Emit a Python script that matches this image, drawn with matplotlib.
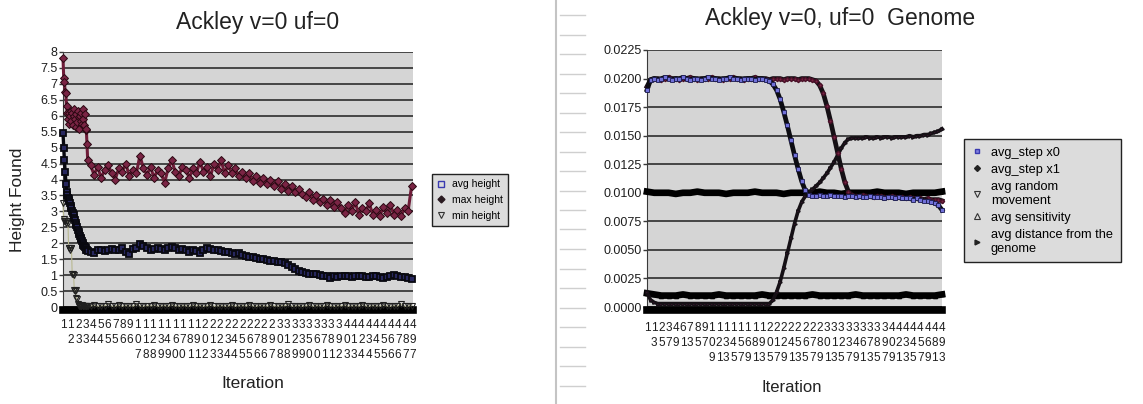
import matplotlib
matplotlib.use('Agg')
import matplotlib.pyplot as plt
from matplotlib.lines import Line2D
import numpy as np

plt.rcParams['font.family'] = ['Liberation Sans', 'DejaVu Sans']

W, H = 1143, 404

# ---- left chart: heights found per iteration ----
it_left = list(range(1, 37)) + list(range(40, 500, 5))

max_height = [7.8, 7.2, 7.05, 6.75, 6.7, 6.3, 6.1, 5.9, 6.1, 5.75,
              6.0, 6.15, 5.85, 6.1, 5.7, 6.0, 6.2, 5.9, 5.65, 6.05,
              5.8, 6.15, 5.95, 5.6, 6.0, 5.85, 6.1, 5.75, 6.2, 5.9,
              5.7, 6.05, 5.55, 5.6, 5.1, 4.6,
              4.45, 4.15, 4.4, 4.05, 4.3, 4.45, 4.2, 4.0, 4.35, 4.25,
              4.5, 4.1, 4.3, 4.2, 4.75, 4.35, 4.15, 4.4, 4.05, 4.3,
              4.2, 3.9, 4.35, 4.6, 4.25, 4.1, 4.4, 4.3, 4.05, 4.35,
              4.2, 4.55, 4.25, 4.4, 4.1, 4.5, 4.3, 4.6, 4.2, 4.45,
              4.2, 4.35, 4.1, 4.25, 4.05, 4.2, 3.95, 4.1, 3.9, 4.05,
              3.85, 4.0, 3.8, 3.95, 3.7, 3.85, 3.65, 3.8, 3.6, 3.7,
              3.55, 3.45, 3.6, 3.35, 3.5, 3.3, 3.4, 3.2, 3.35, 3.15,
              3.3, 3.1, 2.95, 3.2, 3.0, 3.3, 2.9, 3.1, 3.0, 3.25,
              2.9, 3.05, 2.85, 3.15, 2.95, 3.2, 2.9, 3.05, 2.85, 3.1,
              3.0, 3.8]

avg_height = [5.45, 5.0, 4.6, 4.25, 3.85, 3.6, 3.5, 3.42, 3.38, 3.32,
              3.25, 3.18, 3.1, 3.02, 2.95, 2.88, 2.8, 2.72, 2.65, 2.58,
              2.5, 2.42, 2.36, 2.3, 2.24, 2.18, 2.12, 2.06, 2.0, 1.96,
              1.92, 1.88, 1.84, 1.8, 1.78, 1.76,
              1.74, 1.68, 1.78, 1.8, 1.76, 1.8, 1.82, 1.78, 1.8, 1.84,
              1.72, 1.66, 1.82, 1.85, 1.97, 1.9, 1.84, 1.8, 1.82, 1.86,
              1.83, 1.8, 1.85, 1.88, 1.84, 1.8, 1.82, 1.78, 1.74, 1.8,
              1.76, 1.68, 1.8, 1.86, 1.82, 1.78, 1.8, 1.76, 1.74, 1.72,
              1.7, 1.66, 1.68, 1.64, 1.6, 1.58, 1.56, 1.54, 1.52, 1.5,
              1.48, 1.45, 1.44, 1.42, 1.4, 1.38, 1.32, 1.26, 1.2, 1.14,
              1.1, 1.06, 1.05, 1.03, 1.02, 0.99, 0.98, 0.96, 0.92, 0.97,
              0.95, 0.96, 0.98, 0.97, 0.95, 0.96, 0.98, 0.97, 0.95, 0.94,
              0.96, 0.97, 0.93, 0.92, 0.95, 0.97, 0.99, 0.96, 0.94, 0.93,
              0.9, 0.88]

min_height = [3.25, 2.75, 2.7, 2.7, 2.65, 2.7, 2.7, 2.65, 1.85, 1.85,
              1.8, 1.85, 1.85, 1.05, 1.05, 1.0, 0.53, 0.5, 0.53, 0.28,
              0.25, 0.1, 0.05, 0.03, 0.04, 0.02, 0.03, 0.05, 0.02, 0.03,
              0.04, 0.02, 0.03, 0.02, 0.04, 0.03,
              0.03, 0.05, 0.02, 0.04, 0.03, 0.1, 0.02, 0.03, 0.05, 0.02,
              0.04, 0.03, 0.02, 0.08, 0.03, 0.02, 0.04, 0.03, 0.05, 0.02,
              0.03, 0.04, 0.02, 0.06, 0.03, 0.02, 0.04, 0.03, 0.02, 0.05,
              0.03, 0.04, 0.02, 0.03, 0.07, 0.02, 0.03, 0.04, 0.02, 0.03,
              0.05, 0.02, 0.03, 0.04, 0.02, 0.06, 0.03, 0.02, 0.04, 0.03,
              0.02, 0.05, 0.03, 0.02, 0.04, 0.03, 0.08, 0.02, 0.03, 0.04,
              0.02, 0.03, 0.05, 0.02, 0.04, 0.03, 0.02, 0.06, 0.03, 0.02,
              0.04, 0.03, 0.05, 0.02, 0.03, 0.04, 0.02, 0.07, 0.03, 0.02,
              0.04, 0.03, 0.02, 0.05, 0.03, 0.02, 0.04, 0.03, 0.09, 0.02,
              0.03, 0.04]

left_ticks = [1, 12, 23, 33, 44, 54, 65, 75, 86, 96,
              107, 118, 128, 139, 149, 160, 170, 181, 191, 202,
              213, 223, 234, 244, 255, 265, 276, 286, 297, 308,
              318, 329, 339, 350, 360, 371, 381, 392, 403, 413,
              424, 434, 445, 455, 466, 476, 487, 497]

# ---- right chart: genome values per iteration ----
it_right = list(range(1, 494, 6))
it_flat = list(range(1, 494, 12))

step_x0 = [.0190, .0199, .0200, .0199, .0200, .0201, .0200, .0199, .0200, .0200,
           .0201, .0200, .0199, .0200, .0200, .0199, .0200, .0201, .0200, .0200,
           .0199, .0200, .0200, .0201, .0200, .0200, .0199, .0200, .0200, .0200,
           .0199, .0200, .0200, .0199, .0198, .0195, .0190, .0182, .0171, .0159,
           .0146, .0133, .0121, .0110, .0102, .0098, .0097, .0097, .0098, .0097,
           .0097, .0098, .0097, .0097, .0097, .0096, .0097, .0097, .0096, .0097,
           .0096, .0096, .0097, .0096, .0096, .0096, .0095, .0096, .0096, .0095,
           .0096, .0095, .0095, .0095, .0094, .0095, .0094, .0093, .0093, .0092,
           .0091, .0089, .0085]

step_x1 = [.0193, .0199, .0200, .0200, .0199, .0200, .0201, .0200, .0200, .0199,
           .0200, .0200, .0201, .0200, .0199, .0200, .0200, .0200, .0201, .0200,
           .0200, .0199, .0200, .0200, .0201, .0200, .0200, .0199, .0200, .0200,
           .0201, .0200, .0200, .0200, .0199, .0200, .0200, .0200, .0199, .0200,
           .0200, .0200, .0199, .0200, .0200, .0200, .0199, .0198, .0194, .0187,
           .0176, .0163, .0149, .0135, .0121, .0109, .0101, .0098, .0097, .0097,
           .0098, .0097, .0097, .0096, .0097, .0097, .0096, .0096, .0097, .0096,
           .0096, .0096, .0095, .0096, .0095, .0095, .0095, .0094, .0095, .0094,
           .0094, .0094, .0093]

dist_genome = [.0013, .0006, .0004, .0003, .0003, .0003, .0003, .0003, .0003, .0003,
               .0003, .0003, .0003, .0003, .0003, .0003, .0003, .0003, .0003, .0003,
               .0003, .0003, .0003, .0003, .0003, .0003, .0003, .0003, .0003, .0003,
               .0003, .0003, .0003, .0003, .0003, .0006, .0013, .0022, .0034, .0047,
               .0060, .0073, .0084, .0092, .0097, .0100, .0103, .0106, .0109, .0113,
               .0117, .0122, .0127, .0133, .0139, .0144, .0147, .0148, .0148, .0148,
               .0148, .0149, .0148, .0148, .0149, .0148, .0149, .0149, .0148, .0149,
               .0149, .0149, .0149, .0150, .0149, .0150, .0150, .0151, .0151, .0152,
               .0153, .0154, .0156]

random_move = [.0101, .0100, .0100, .0100, .0099, .0100, .0100, .0101, .0100, .0100,
               .0100, .0099, .0100, .0100, .0100, .0101, .0100, .0100, .0100, .0099,
               .0100, .0100, .0100, .0100, .0101, .0100, .0100, .0099, .0100, .0100,
               .0100, .0100, .0101, .0100, .0100, .0100, .0099, .0100, .0100, .0100,
               .0100, .0101]

sensitivity = [.0012, .0011, .0010, .0010, .0010, .0011, .0010, .0010, .0010, .0010,
               .0011, .0010, .0010, .0010, .0010, .0010, .0011, .0010, .0010, .0010,
               .0010, .0010, .0010, .0011, .0010, .0010, .0010, .0010, .0010, .0011,
               .0010, .0010, .0010, .0010, .0010, .0010, .0011, .0010, .0010, .0010,
               .0010, .0011]

right_ticks = list(range(1, 494, 12))


def stacked(v):
    # Excel wrapped the narrow category labels one digit per line
    return '\n'.join(str(v))


def style_axes(ax):
    ax.set_facecolor('#d5d5d5')
    ax.set_axisbelow(True)
    ax.yaxis.grid(True, color='#3a3a3a', lw=1.3)
    ax.spines['top'].set_visible(False)
    ax.spines['right'].set_visible(False)
    ax.spines['left'].set_color('#3a3a3a')
    ax.spines['bottom'].set_color('black')
    ax.spines['bottom'].set_linewidth(5.5)
    ax.spines['bottom'].set_position(('outward', 2.5))
    ax.tick_params(axis='y', direction='out', length=3, width=1, color='#3a3a3a',
                   labelsize=9, pad=1, labelcolor='#1e1e1e')
    ax.tick_params(axis='x', length=0, pad=6, labelsize=8.5, labelcolor='#1e1e1e')


fig = plt.figure(figsize=(W / 100, H / 100), dpi=100)

# separator strip between the two pasted charts
fig.add_artist(Line2D([556 / W, 556 / W], [0, 1], color='#c4c4c4', lw=1.5,
                      transform=fig.transFigure))
for yy in np.arange(15, 400, 19.5):
    fig.add_artist(Line2D([560 / W, 585 / W], [1 - yy / H, 1 - yy / H], color='#cfcfcf',
                          lw=1, transform=fig.transFigure))

# ---------------- left ----------------
ax1 = fig.add_axes([63 / W, 1 - 307 / H, 350 / W, 255 / H])
style_axes(ax1)
ax1.plot(it_left, min_height, color='#b8b890', lw=0.8, marker='v', ms=4,
         mfc='none', mec='#202020', mew=0.8, clip_on=False, zorder=3)
ax1.plot(it_left, max_height, color='#6e1c38', lw=2.2, marker='D', ms=3.6,
         mfc='#7a2444', mec='#2a0812', mew=0.7, clip_on=False, zorder=4)
ax1.plot(it_left, avg_height, color='#08080f', lw=2.4, marker='s', ms=4.5,
         mfc='#27275e', mec='#08080f', mew=1.3, clip_on=False, zorder=5)
ax1.set_xlim(1, 497)
ax1.set_ylim(0, 8)
ax1.set_yticks(np.arange(0, 8.01, 0.5))
ax1.set_yticklabels(['%g' % v for v in np.arange(0, 8.01, 0.5)])
ax1.set_xticks(left_ticks)
ax1.set_xticklabels([stacked(v) for v in left_ticks], linespacing=1.35)

fig.text(258 / W, 1 - 22 / H, 'Ackley v=0 uf=0', ha='center', va='center',
         fontsize=16.5, color='#222222')
fig.text(18 / W, 1 - 200 / H, 'Height Found', rotation=90, ha='center', va='center',
         fontsize=12.5, color='#222222')
fig.text(253 / W, 1 - 383 / H, 'Iteration', ha='center', va='center',
         fontsize=12.5, color='#222222')

h_left = [Line2D([], [], ls='none', marker='s', ms=4, mfc='none', mec='#3a3ab0', mew=1),
          Line2D([], [], ls='none', marker='D', ms=3.5, mfc='#2a1a20', mec='#2a1a20'),
          Line2D([], [], ls='none', marker='v', ms=4, mfc='none', mec='#333333', mew=0.8)]
fig.legend(h_left, ['avg height', 'max height', 'min height'], loc='upper left',
           bbox_to_anchor=(432 / W, 1 - 174 / H), frameon=True, fancybox=False,
           edgecolor='#222222', facecolor='#dcdcdc', framealpha=1, fontsize=7.5,
           handlelength=0.8, handletextpad=0.6, borderpad=0.5, labelspacing=0.55,
           borderaxespad=0)

# ---------------- right ----------------
ax2 = fig.add_axes([647 / W, 1 - 307 / H, 295 / W, 257 / H])
style_axes(ax2)
ax2.plot(it_flat, sensitivity, color='black', lw=4.8, marker='^', ms=3,
         mfc='none', mec='black', clip_on=False, zorder=3)
ax2.plot(it_flat, random_move, color='black', lw=4.8, marker='v', ms=3,
         mfc='none', mec='black', clip_on=False, zorder=3)
ax2.plot(it_right, dist_genome, color='#151015', lw=2.6, marker='>', ms=2.5,
         mfc='#4a1838', mec='#151015', clip_on=False, zorder=4)
ax2.plot(it_right, step_x1, color='#151015', lw=3.4, marker='D', ms=2.2,
         mfc='#7a2545', mec='#4a1028', clip_on=False, zorder=5)
ax2.plot(it_right, step_x0, color='#0c0c12', lw=3.4, marker='s', ms=2.3,
         mfc='#7070d8', mec='#1c1c50', mew=0.6, clip_on=False, zorder=6)
ax2.set_xlim(1, 493)
ax2.set_ylim(0, 0.0225)
ax2.set_yticks(np.arange(0, 0.02251, 0.0025))
ax2.set_yticklabels(['%.4f' % v for v in np.arange(0, 0.02251, 0.0025)])
ax2.set_xticks(right_ticks)
ax2.set_xticklabels([stacked(v) for v in right_ticks], linespacing=1.35)
ax2.tick_params(axis='x', pad=8)

fig.text(840 / W, 1 - 18 / H, 'Ackley v=0, uf=0  Genome', ha='center', va='center',
         fontsize=16.5, color='#222222')
fig.text(792 / W, 1 - 388 / H, 'Iteration', ha='center', va='center',
         fontsize=12, color='#222222')

h_right = [Line2D([], [], ls='none', marker='s', ms=3.5, mfc='#8080e0', mec='#3a3ab0'),
           Line2D([], [], ls='none', marker='D', ms=3, mfc='#222222', mec='#222222'),
           Line2D([], [], ls='none', marker='v', ms=4, mfc='none', mec='#333333', mew=0.8),
           Line2D([], [], ls='none', marker='^', ms=4, mfc='none', mec='#333333', mew=0.8),
           Line2D([], [], ls='none', marker='>', ms=3.5, mfc='#222222', mec='#222222')]
fig.legend(h_right, ['avg_step x0', 'avg_step x1', 'avg random\nmovement',
                     'avg sensitivity', 'avg distance from the\ngenome'],
           loc='upper left', bbox_to_anchor=(964 / W, 1 - 139 / H), frameon=True,
           fancybox=False, edgecolor='#222222', facecolor='#dcdcdc', framealpha=1,
           fontsize=9.2, handlelength=0.8, handletextpad=0.7, borderpad=0.6,
           labelspacing=0.4, borderaxespad=0)

fig.savefig('out.png', dpi=100)
